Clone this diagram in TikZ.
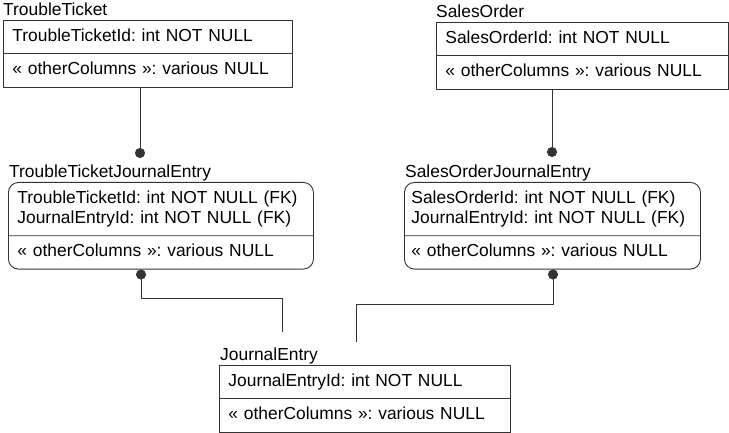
\documentclass[tikz,border=0pt]{standalone}
\usepackage{fontspec}
\setmainfont{Liberation Sans}
\usetikzlibrary{arrows.meta,positioning,shapes.multipart}
\newcommand{\othercols}{\strut«~otherColumns~»: various NULL}

\begin{document}
\begin{tikzpicture}[
      x=1pt, y=-1pt,
      font=\fontsize{17.4}{20}\selectfont\frenchspacing,
      table/.style={rectangle split, rectangle split parts=2, draw=black!80, line width=0.9pt, inner xsep=9pt, inner ysep=6.2pt, text width=#1, align=left, anchor=north west},
      deptable/.style={table=#1, rounded corners=10pt},
      title/.style={anchor=base west, inner sep=0pt},
      fk/.style={draw=black!80, line width=0.9pt, -{Circle[length=10pt]}},
      fkback/.style={draw=black!80, line width=0.9pt, {Circle[length=10pt]}-}
  ]
  \useasboundingbox (0,0) rectangle (729,433);

  % Tables
  \node (TT) [table=271pt] at (3,20) {\strut TroubleTicketId: int NOT NULL \nodepart{two} \othercols};
  \node (SO) [table=274pt] at (436,22) {\strut SalesOrderId: int NOT NULL \nodepart{two} \othercols};
  \node (TTJE) [deptable=287pt] at (8,182) {\strut TroubleTicketId: int NOT NULL (FK)\\JournalEntryId: int NOT NULL (FK)\strut \nodepart{two} \othercols};
  \node (SOJE) [deptable=282pt, inner xsep=7pt] at (404,182) {\strut SalesOrderId: int NOT NULL (FK)\\JournalEntryId: int NOT NULL (FK)\strut \nodepart{two} \othercols};
  \node (JE) [table=273pt] at (219,365) {\strut JournalEntryId: int NOT NULL \nodepart{two} \othercols};

  % Table names
  \node (TTname) [title] at ([yshift=4.5pt]TT.north west) {TroubleTicket};
  \node (SOname) [title] at ([yshift=4.5pt]SO.north west) {SalesOrder};
  \node (TTJEname) [title] at ([xshift=1pt,yshift=4.5pt]TTJE.north west) {TroubleTicketJournalEntry};
  \node (SOJEname) [title] at ([xshift=1pt,yshift=4.5pt]SOJE.north west) {SalesOrderJournalEntry};
  \node (JEname) [title] at ([xshift=1pt,yshift=4.5pt]JE.north west) {JournalEntry};

  % Relationship ends
  \coordinate (dotA) at (140,158);
  \coordinate (dotB) at (552,157);
  \coordinate (bendA) at (141,298);
  \coordinate (bendB) at (553,304);
  \coordinate (jeA) at (282,332);
  \coordinate (jeB) at (356,342);

  % Relationships
  \draw [fk] (TT.south -| dotA) -- (dotA);
  \draw [fk] (SO.south -| dotB) -- (dotB);
  \draw [fkback] (TTJE.south -| bendA) -- (bendA) -| (jeA);
  \draw [fkback] (SOJE.south -| bendB) -- (bendB) -| (jeB);

\end{tikzpicture}
\end{document}
